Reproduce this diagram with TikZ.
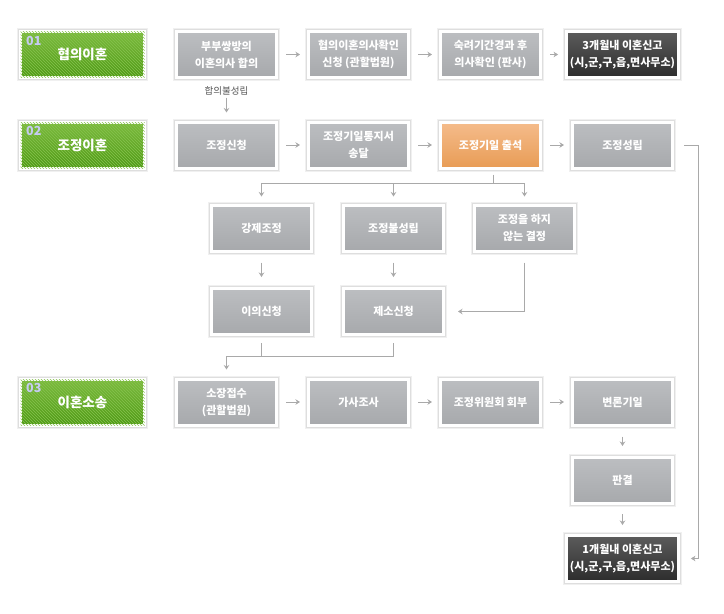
\documentclass[tikz,border=0pt]{standalone}
\usepackage{fontspec}
\setmainfont{Noto Sans CJK KR}
\usetikzlibrary{arrows.meta,patterns}
\definecolor{grayT}{HTML}{BCBEC1}
\definecolor{grayB}{HTML}{A7A9AC}
\definecolor{orT}{HTML}{F5BC8C}
\definecolor{orB}{HTML}{E89C55}
\definecolor{dkT}{HTML}{5C5C5C}
\definecolor{dkB}{HTML}{2C2C2C}
\definecolor{grT}{HTML}{7DBB3F}
\definecolor{grB}{HTML}{4D9914}
\definecolor{grS}{HTML}{86C24E}
\definecolor{numc}{HTML}{C6CCF2}
\definecolor{linec}{HTML}{A9A9A9}
\definecolor{labc}{HTML}{555555}
\tikzset{
  boxbase/.style={rectangle, minimum width=100pt, minimum height=46pt, outer sep=1.5pt,
    draw=white, line width=3pt, align=center, text=white,
    font=\fontsize{11}{17}\selectfont\bfseries,
    preaction={draw=black!6, line width=7pt},
    preaction={draw=black!13, line width=5pt}},
  graybox/.style={boxbase, top color=grayT, bottom color=grayB},
  orbox/.style={boxbase, top color=orT, bottom color=orB},
  dkbox/.style={boxbase, top color=dkT, bottom color=dkB},
  grbox/.style={boxbase, minimum width=124pt, top color=grT, bottom color=grB,
    font=\fontsize{13.5}{17}\selectfont\bfseries,
    postaction={pattern=north west lines, pattern color=grS}},
  numlab/.style={text=numc, font=\fontsize{12.5}{14}\selectfont\bfseries, inner sep=0pt, anchor=north west},
  conn/.style={draw=linec, line width=1pt},
  arr/.style={conn, -{Stealth[length=4.5pt,width=5.5pt]}},
  lab/.style={text=labc, font=\fontsize{9.5}{12}\selectfont, inner sep=0pt}
}
\begin{document}
\begin{tikzpicture}[x=1pt,y=-1pt]
\useasboundingbox[fill=white] (0,0) rectangle (724,614);
% row 1
\node[grbox] (g1) at (82.5,54.5) {협의이혼};
\node[numlab] (n1) at (26,36) {01};
\node[graybox] (a1) at (226.5,54.5) {부부쌍방의\\이혼의사 합의};
\node[graybox] (a2) at (358.5,54.5) {협의이혼의사확인\\신청 (관할법원)};
\node[graybox] (a3) at (490.5,54.5) {숙려기간경과 후\\의사확인 (판사)};
\node[dkbox] (a4) at (622.5,54.5) {3개월내 이혼신고\\(시,군,구,읍,면사무소)};
\node[lab] (l1) at (226.5,91) {합의불성립};
% row 2
\node[grbox] (g2) at (82.5,145) {조정이혼};
\node[numlab] (n2) at (26,126.5) {02};
\node[graybox] (b1) at (226.5,145) {조정신청};
\node[graybox] (b2) at (358.5,145) {조정기일통지서\\송달};
\node[orbox] (b3) at (490.5,145) {조정기일 출석};
\node[graybox] (b4) at (622.5,145) {조정성립};
% row 3
\node[graybox] (c1) at (261.5,228) {강제조정};
\node[graybox] (c2) at (393.5,228) {조정불성립};
\node[graybox] (c3) at (524.5,228) {조정을 하지\\않는 결정};
% row 4
\node[graybox] (d1) at (261.5,311.5) {이의신청};
\node[graybox] (d2) at (393.5,311.5) {제소신청};
% row 5
\node[grbox] (g3) at (82.5,402) {이혼소송};
\node[numlab] (n3) at (26,383.5) {03};
\node[graybox] (e1) at (226.5,402) {소장접수\\(관할법원)};
\node[graybox] (e2) at (358.5,402) {가사조사};
\node[graybox] (e3) at (490.5,402) {조정위원회 회부};
\node[graybox] (e4) at (622.5,402) {변론기일};
\node[graybox] (f1) at (622.5,480.5) {판결};
\node[dkbox] (f2) at (622.5,558.5) {1개월내 이혼신고\\(시,군,구,읍,면사무소)};
% connectors
\foreach \p/\q in {a1/a2,a2/a3,a3/a4,b1/b2,b2/b3,b3/b4,e1/e2,e2/e3,e3/e4}{
  \draw[arr] ([xshift=8pt]\p.east) -- ([xshift=-7pt]\q.west);
}
\draw[arr] ([yshift=-2pt]l1.south) -- ([yshift=8pt]b1.north);
% branch from b3
\coordinate (br) at (493,183);
\draw[conn] ([yshift=-5pt,xshift=2.5pt]b3.south) -- (br);
\draw[conn] (c1.north |- br) -- (c3.north |- br);
\foreach \n in {c1,c2,c3}{
  \draw[arr] (\n.north |- br) -- ([yshift=7pt]\n.north);
}
\draw[arr] ([yshift=-10pt]c1.south) -- ([yshift=10pt]d1.north);
\draw[arr] ([yshift=-10pt]c2.south) -- ([yshift=10pt]d2.north);
\draw[arr] ([yshift=-10pt]c3.south) |- ([xshift=13pt]d2.east);
% merge to e1
\coordinate (mg) at (226.5,356);
\draw[conn] ([yshift=-7pt]d1.south) -- (d1.south |- mg);
\draw[conn] ([yshift=-7pt]d2.south) -- (d2.south |- mg) -- (mg);
\draw[arr] (mg) -- ([yshift=8pt]e1.north);
% right column
\draw[arr] ([yshift=-10pt]e4.south) -- ([yshift=10pt]f1.north);
\draw[arr] ([yshift=-9pt]f1.south) -- ([yshift=9pt]f2.north);
\coordinate (rt) at (698,145);
\draw[arr] ([xshift=10pt]b4.east) -- (rt) |- ([xshift=11pt]f2.east);
\end{tikzpicture}
\end{document}
